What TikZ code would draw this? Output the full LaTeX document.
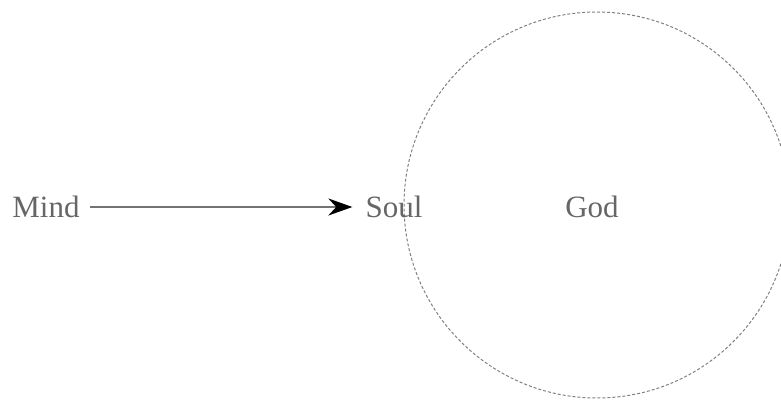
\documentclass[tikz,border=0pt]{standalone}
\usepackage{fontspec}
\setmainfont{Liberation Serif}
\usetikzlibrary{arrows.meta,positioning}

\begin{document}
\begin{tikzpicture}[
  x=1pt,y=-1pt,
  word/.style={font=\fontsize{31}{36}\selectfont,text=black!60,inner sep=4pt},
  realm/.style={circle,draw=black!50,dashed,dash pattern=on 3pt off 2pt,
                line width=1pt,minimum size=386pt,inner sep=0pt},
  arr/.style={-{Stealth[length=24pt,width=17pt,black]},draw=black!55,line width=2.2pt}
]
\useasboundingbox (0,0) rectangle (781,401);
\node[realm] (circ) at (597,205) {};
\node[word] (god)  at (592,207) {God};
\node[word] (soul) at (394,207) {Soul};
\node[word] (mind) at (46,207)  {Mind};
\draw[arr,shorten <=6pt,shorten >=9pt] (mind) -- (soul);
\end{tikzpicture}
\end{document}
